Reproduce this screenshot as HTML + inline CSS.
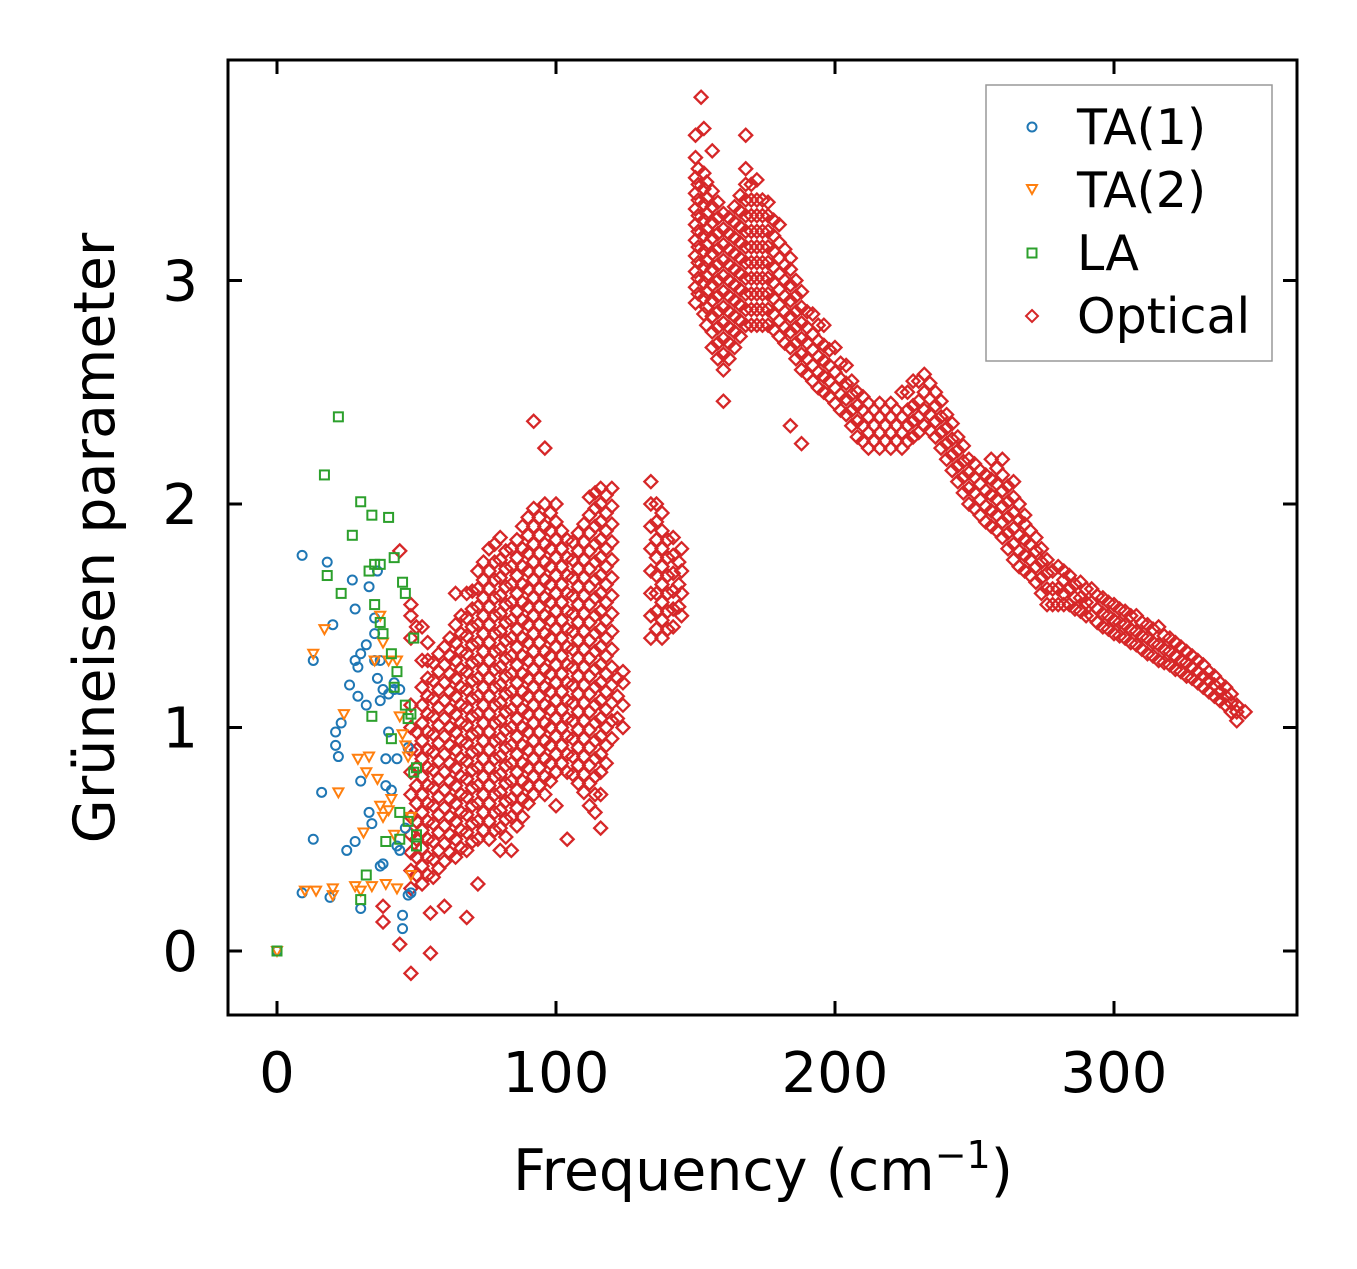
<!DOCTYPE html>
<html><head><meta charset="utf-8"><style>
html,body{margin:0;padding:0;background:#fff;}
svg text{font-family:"DejaVu Sans","Liberation Sans",sans-serif;fill:#000;}
</style></head><body>
<svg id="chart" width="1357" height="1264" viewBox="0 0 1357 1264" xmlns="http://www.w3.org/2000/svg">
<rect x="0" y="0" width="1357" height="1264" fill="#fff"/>
<g id="marks"></g>
<rect x="228" y="60" width="1069" height="955" fill="none" stroke="#000" stroke-width="3"/>
<g id="axes"></g>
<text transform="translate(114,538) rotate(-90)" text-anchor="middle" font-size="57">Grüneisen parameter</text>
<text x="763" y="1190" text-anchor="middle" font-size="57">Frequency (cm<tspan font-size="38" dy="-22">−1</tspan><tspan dy="22">)</tspan></text>
<g>
<rect x="986" y="85" width="286" height="276" fill="#fff" fill-opacity="0.85" stroke="#999" stroke-width="1.5"/>
<circle cx="1032" cy="127" r="4.5" fill="none" stroke="#1f77b4" stroke-width="2"/>
<text x="1077" y="144" font-size="49">TA(1)</text>
<polygon points="1027,185 1037,185 1032,194" fill="none" stroke="#ff7f0e" stroke-width="2"/>
<text x="1077" y="207" font-size="49">TA(2)</text>
<rect x="1027.5" y="248.5" width="9" height="9" fill="none" stroke="#2ca02c" stroke-width="2"/>
<text x="1077" y="270" font-size="49">LA</text>
<polygon points="1032,310 1038,316 1032,322 1026,316" fill="none" stroke="#d62728" stroke-width="2"/>
<text x="1077" y="333" font-size="49">Optical</text>
</g>
</svg>
<script>
const xTicks = [0, 100, 200, 300];
const yTicks = [0, 1, 2, 3];
const ta1 = [[0,0],[9,1.77],[9,.26],[13,1.3],[13,.5],[16,.71],[18,1.74],[19,.24],[20,1.46],[21,.98],[21,.92],[22,.87],[23,1.02],[25,.45],[26,1.19],[27,1.66],[28,1.53],[28,1.3],[28,.49],[29,1.27],[29,1.14],[30,1.33],[30,.19],[30,.76],[32,1.37],[32,1.1],[33,1.63],[33,.62],[34,.57],[35,1.49],[35,1.42],[35,1.3],[36,1.7],[36,1.22],[37,1.3],[37,1.12],[37,.38],[38,1.17],[38,.39],[39,.86],[39,.74],[40,1.15],[40,.98],[41,.72],[42,1.2],[42,1.17],[43,.86],[43,.47],[44,1.17],[44,.45],[45,.1],[45,.16],[46,.55],[47,.25],[47,.91],[48,.26]];
const ta2 = [[0,0],[10,.27],[13,1.33],[14,.27],[17,1.44],[20,.25],[20,.28],[22,.71],[24,1.06],[28,.29],[29,.86],[30,.27],[31,.53],[32,.8],[33,.87],[34,.29],[35,1.3],[36,.77],[37,1.5],[37,.65],[38,1.38],[38,.6],[39,.3],[40,.63],[40,1.3],[41,.68],[42,.52],[43,1.3],[43,.28],[44,1.05],[45,.97],[46,.92],[47,.87],[48,.34],[48,.6]];
const la = [[0,0],[17,2.13],[18,1.68],[22,2.39],[23,1.6],[27,1.86],[30,2.01],[30,.23],[32,.34],[33,1.7],[34,1.95],[34,1.05],[35,1.73],[35,1.55],[37,1.73],[37,1.47],[38,1.42],[39,.49],[40,1.94],[41,1.33],[41,.95],[42,1.76],[42,1.18],[43,1.25],[44,.5],[44,.62],[45,1.65],[46,1.6],[46,1.1],[47,1.04],[47,.58],[48,1.06],[49,1.4],[49,.8],[50,.82],[50,.52],[50,.47]];
// optical: each column = [frequency, gamma values...]
const opticalCols = [
[38,.13,.2],[44,.03,1.79],[48,-.1,.28,.36,.44,.52,.6,.7,.8,.9,1.0,1.1,1.4,1.5,1.55],
[52,.3,.38,.46,.54,.62,.7,.78,.86,.94,1.02,1.1,1.18,1.3,1.45],[55,-.01,.17],
[56,.33,.41,.49,.57,.65,.73,.81,.89,.97,1.05,1.13,1.21,1.29],
[60,.4,.48,.56,.64,.72,.8,.88,.96,1.04,1.12,1.2,1.28,1.36,.2],
[64,.42,.5,.58,.66,.74,.82,.9,.98,1.06,1.14,1.22,1.3,1.38,1.46,1.6],
[68,.45,.53,.61,.69,.77,.85,.93,1.01,1.09,1.17,1.25,1.33,1.41,1.49,1.6,.15],
[72,.3,.5,.58,.66,.74,.82,.9,.98,1.06,1.14,1.22,1.3,1.38,1.46,1.54,1.62,1.7],
[76,.5,.58,.66,.74,.82,.9,.98,1.06,1.14,1.22,1.3,1.38,1.46,1.54,1.62,1.7,1.8],
[80,.45,.55,.63,.71,.79,.87,.95,1.03,1.11,1.19,1.27,1.35,1.43,1.51,1.59,1.67,1.75,1.85],
[84,.45,.6,.68,.76,.84,.92,1.0,1.08,1.16,1.24,1.32,1.4,1.48,1.56,1.64,1.72,1.8],
[88,.6,.68,.76,.84,.92,1.0,1.08,1.16,1.24,1.32,1.4,1.48,1.56,1.64,1.72,1.8,1.9],
[92,.7,.78,.86,.94,1.02,1.1,1.18,1.26,1.34,1.42,1.5,1.58,1.66,1.74,1.82,1.9,1.98,2.37],
[96,.7,.78,.86,.94,1.02,1.1,1.18,1.26,1.34,1.42,1.5,1.58,1.66,1.74,1.82,1.9,2.0,2.25],
[100,.65,.8,.88,.96,1.04,1.12,1.2,1.28,1.36,1.44,1.52,1.6,1.68,1.76,1.84,1.92,2.0],
[104,.5,.8,.88,.96,1.04,1.12,1.2,1.28,1.36,1.44,1.52,1.6,1.68,1.76,1.84],
[108,.75,.83,.91,.99,1.07,1.15,1.23,1.31,1.39,1.47,1.55,1.63,1.71,1.79,1.87],
[112,.65,.75,.83,.91,.99,1.07,1.15,1.23,1.31,1.39,1.47,1.55,1.63,1.71,1.79,1.87,1.95,2.03],
[116,.55,.7,.8,.88,.96,1.04,1.12,1.2,1.28,1.36,1.44,1.52,1.6,1.68,1.76,1.84,1.92,2.0,2.07],
[120,.95,1.03,1.11,1.19,1.27,1.35,1.43,1.51,1.59,1.67,1.75,1.83,1.91,1.99,2.07],
[124,1.0,1.1,1.2,1.25],
[134,1.4,1.5,1.6,1.7,1.8,1.9,2.0,2.1],[138,1.4,1.48,1.56,1.64,1.72,1.8,1.88,1.96],
[142,1.45,1.53,1.61,1.69,1.77,1.85],[145,1.5,1.6,1.7,1.8],
[150,2.9,2.97,3.04,3.11,3.18,3.25,3.32,3.39,3.46,3.55,3.65],[152,3.82],
[153,2.85,2.92,2.99,3.06,3.13,3.2,3.27,3.34,3.41,3.48,3.68],
[156,2.7,2.77,2.84,2.91,2.98,3.05,3.12,3.19,3.26,3.33,3.4,3.58],
[160,2.46,2.6,2.67,2.74,2.81,2.88,2.95,3.02,3.09,3.16,3.23,3.3],
[164,2.7,2.77,2.84,2.91,2.98,3.05,3.12,3.19,3.26,3.33],
[168,2.8,2.87,2.94,3.01,3.08,3.15,3.22,3.29,3.36,3.43,3.5,3.65],
[172,2.8,2.87,2.94,3.01,3.08,3.15,3.22,3.29,3.36,3.45],
[176,2.8,2.87,2.94,3.01,3.08,3.15,3.22,3.29,3.35],
[180,2.75,2.82,2.89,2.96,3.03,3.1,3.17,3.25],
[184,2.7,2.77,2.84,2.91,2.98,3.05,3.1,2.35],
[188,2.6,2.67,2.74,2.81,2.88,2.95,2.27],[192,2.55,2.62,2.69,2.76,2.85],
[196,2.5,2.57,2.64,2.71,2.8],[200,2.45,2.52,2.59,2.7],[204,2.4,2.47,2.54,2.62],
[208,2.3,2.37,2.44,2.5],[212,2.25,2.32,2.39,2.45],[216,2.25,2.32,2.39,2.45],
[220,2.25,2.32,2.39,2.45],[224,2.25,2.32,2.39,2.5],[228,2.3,2.37,2.44,2.55],
[232,2.35,2.42,2.5,2.58],[236,2.3,2.37,2.44,2.5],[240,2.2,2.27,2.34,2.4],
[244,2.1,2.17,2.24,2.3],[248,2.0,2.07,2.14,2.2],[252,1.95,2.02,2.09,2.15],
[256,1.9,1.97,2.04,2.11,2.2],[260,1.85,1.92,1.99,2.06,2.13,2.2],[264,1.75,1.82,1.89,1.96,2.03,2.1],
[268,1.7,1.77,1.84,1.91,1.95],[272,1.65,1.72,1.79,1.85],[276,1.55,1.62,1.69,1.75],
[280,1.55,1.62,1.72],[284,1.55,1.62,1.68],[288,1.52,1.58,1.65],[292,1.5,1.56,1.62],
[296,1.45,1.51,1.58],[300,1.42,1.48,1.55],[304,1.4,1.46,1.52],[308,1.37,1.43,1.5],
[312,1.33,1.4,1.46],[316,1.3,1.37,1.45],[320,1.28,1.34,1.4],[324,1.25,1.3,1.36],
[328,1.22,1.27,1.32],[332,1.18,1.23,1.28],[336,1.14,1.19,1.23],[340,1.1,1.14,1.18],
[344,1.03,1.07,1.1],[347,1.07]
];
const opticalCols2 = [
[50,.34,.42,.5,.58,.66,.74,.82,.9,.98,1.45],
[54,.34,.42,.5,.58,.66,.74,.82,.9,.98,1.06,1.14,1.22,1.3,1.38],
[58,.37,.45,.53,.61,.69,.77,.85,.93,1.01,1.09,1.17,1.25,1.33],
[62,.44,.52,.6,.68,.76,.84,.92,1.0,1.08,1.16,1.24,1.32,1.4],
[66,.46,.54,.62,.7,.78,.86,.94,1.02,1.1,1.18,1.26,1.34,1.42,1.5],
[70,.49,.57,.65,.73,.81,.89,.97,1.05,1.13,1.21,1.29,1.37,1.45,1.53,1.61],
[74,.54,.62,.7,.78,.86,.94,1.02,1.1,1.18,1.26,1.34,1.42,1.5,1.58,1.66,1.74],
[78,.54,.62,.7,.78,.86,.94,1.02,1.1,1.18,1.26,1.34,1.42,1.5,1.58,1.66,1.74,1.82],
[82,.51,.59,.67,.75,.83,.91,.99,1.07,1.15,1.23,1.31,1.39,1.47,1.55,1.63,1.71,1.79],
[86,.56,.64,.72,.8,.88,.96,1.04,1.12,1.2,1.28,1.36,1.44,1.52,1.6,1.68,1.76,1.84],
[90,.66,.74,.82,.9,.98,1.06,1.14,1.22,1.3,1.38,1.46,1.54,1.62,1.7,1.78,1.86,1.94],
[94,.74,.82,.9,.98,1.06,1.14,1.22,1.3,1.38,1.46,1.54,1.62,1.7,1.78,1.86,1.94],
[98,.76,.84,.92,1.0,1.08,1.16,1.24,1.32,1.4,1.48,1.56,1.64,1.72,1.8,1.88,1.96],
[102,.84,.92,1.0,1.08,1.16,1.24,1.32,1.4,1.48,1.56,1.64,1.72,1.8,1.88],
[106,.79,.87,.95,1.03,1.11,1.19,1.27,1.35,1.43,1.51,1.59,1.67,1.75,1.83],
[110,.71,.79,.87,.95,1.03,1.11,1.19,1.27,1.35,1.43,1.51,1.59,1.67,1.75,1.83,1.91],
[114,.62,.7,.78,.86,.94,1.02,1.1,1.18,1.26,1.34,1.42,1.5,1.58,1.66,1.74,1.82,1.9,1.98,2.05],
[118,.84,.92,1.0,1.08,1.16,1.24,1.32,1.4,1.48,1.56,1.64,1.72,1.8,1.88,1.96,2.04],
[122,1.04,1.14,1.22],
[136,1.44,1.52,1.6,1.68,1.76,1.84,1.92,2.0],[140,1.44,1.52,1.6,1.68,1.76,1.84],[144,1.54,1.64,1.74],
[151,2.94,3.01,3.08,3.15,3.22,3.29,3.36,3.43,3.5],
[154,2.8,2.88,2.95,3.02,3.09,3.16,3.23,3.3,3.37,3.44],
[158,2.65,2.72,2.79,2.86,2.93,3.0,3.07,3.14,3.21,3.28,3.35],
[162,2.65,2.72,2.79,2.86,2.93,3.0,3.07,3.14,3.21,3.28],
[166,2.75,2.82,2.89,2.96,3.03,3.1,3.17,3.24,3.31,3.38],
[170,2.8,2.87,2.94,3.01,3.08,3.15,3.22,3.29,3.36,3.43],
[174,2.8,2.87,2.94,3.01,3.08,3.15,3.22,3.29,3.36],
[178,2.78,2.85,2.92,2.99,3.06,3.13,3.2,3.27],
[182,2.72,2.79,2.86,2.93,3.0,3.07,3.14],
[186,2.65,2.72,2.79,2.86,2.93,3.0],
[190,2.58,2.65,2.72,2.79,2.86],[194,2.52,2.59,2.66,2.73,2.8],
[198,2.48,2.55,2.62,2.69],[202,2.42,2.49,2.56,2.63],[206,2.35,2.42,2.49,2.55],
[210,2.28,2.35,2.42,2.48],[214,2.28,2.35,2.42],[218,2.28,2.35,2.42],[222,2.28,2.35,2.42],
[226,2.28,2.35,2.42,2.5],[230,2.32,2.39,2.46,2.55],[234,2.33,2.4,2.47,2.54],
[238,2.25,2.32,2.39,2.46],[242,2.15,2.22,2.29,2.36],[246,2.05,2.12,2.19,2.26],
[250,1.98,2.05,2.12,2.18],[254,1.92,1.99,2.06,2.13],[258,1.88,1.95,2.02,2.09,2.16],
[262,1.8,1.87,1.94,2.01,2.08],[266,1.72,1.79,1.86,1.93,2.0],[270,1.68,1.75,1.82,1.88],
[274,1.6,1.67,1.74,1.8],[278,1.55,1.62,1.7],[282,1.55,1.6,1.66,1.7],[286,1.53,1.58,1.64],
[290,1.5,1.56,1.62],[294,1.47,1.53,1.59],[298,1.44,1.5,1.56],[302,1.41,1.47,1.53],
[306,1.38,1.44,1.5],[310,1.35,1.41,1.47],[314,1.32,1.38,1.44],[318,1.29,1.35,1.41],
[322,1.26,1.32,1.38],[326,1.23,1.29,1.34],[330,1.2,1.25,1.3],[334,1.16,1.21,1.25],
[338,1.12,1.16,1.2],[342,1.07,1.11,1.15]
];
const sx = v => 277 + v * 2.79;
const sy = v => 951 - v * 223.5;
const NS = 'http://www.w3.org/2000/svg';
const marks = document.getElementById('marks');
const axes = document.getElementById('axes');
function mk(tag, attrs, parent) {
  const e = document.createElementNS(NS, tag);
  for (const k in attrs) e.setAttribute(k, attrs[k]);
  parent.appendChild(e);
  return e;
}
function drawOptical(cols) {
  cols.forEach(col => {
    const x = col[0];
    for (let i = 1; i < col.length; i++) {
      const cx = sx(x), cy = sy(col[i]);
      const p = mk('polygon', {points: `${cx},${cy-6.5} ${cx+6.5},${cy} ${cx},${cy+6.5} ${cx-6.5},${cy}`, fill: 'none', stroke: '#d62728', 'stroke-width': 2.3}, marks);
      
      
    }
  });
}
drawOptical(opticalCols);
drawOptical(opticalCols2);
ta1.forEach(d => {
  const c = mk('circle', {cx: sx(d[0]), cy: sy(d[1]), r: 4.5, fill: 'none', stroke: '#1f77b4', 'stroke-width': 2}, marks);
  
  
});
ta2.forEach(d => {
  const cx = sx(d[0]), cy = sy(d[1]);
  const p = mk('polygon', {points: `${cx-5},${cy-4} ${cx+5},${cy-4} ${cx},${cy+5}`, fill: 'none', stroke: '#ff7f0e', 'stroke-width': 2}, marks);
  
  
});
la.forEach(d => {
  const r = mk('rect', {x: sx(d[0]) - 4.5, y: sy(d[1]) - 4.5, width: 9, height: 9, fill: 'none', stroke: '#2ca02c', 'stroke-width': 2}, marks);
  
  
});
xTicks.forEach(t => {
  const x = sx(t);
  const a = mk('line', {x1: x, x2: x, y1: 1015, y2: 1001, stroke: '#000', 'stroke-width': 3}, axes);
  
  
  const b = mk('line', {x1: x, x2: x, y1: 60, y2: 74, stroke: '#000', 'stroke-width': 3}, axes);
  
  
  const tx = mk('text', {x: x, y: 1092, 'text-anchor': 'middle', 'font-size': 56}, axes);
  tx.textContent = t;
  
  
});
yTicks.forEach(t => {
  const y = sy(t);
  const a = mk('line', {x1: 228, x2: 242, y1: y, y2: y, stroke: '#000', 'stroke-width': 3}, axes);
  
  
  const b = mk('line', {x1: 1297, x2: 1283, y1: y, y2: y, stroke: '#000', 'stroke-width': 3}, axes);
  
  
  const tx = mk('text', {x: 198, y: y + 20, 'text-anchor': 'end', 'font-size': 56}, axes);
  tx.textContent = t;
  
  
});
</script>
</body></html>
